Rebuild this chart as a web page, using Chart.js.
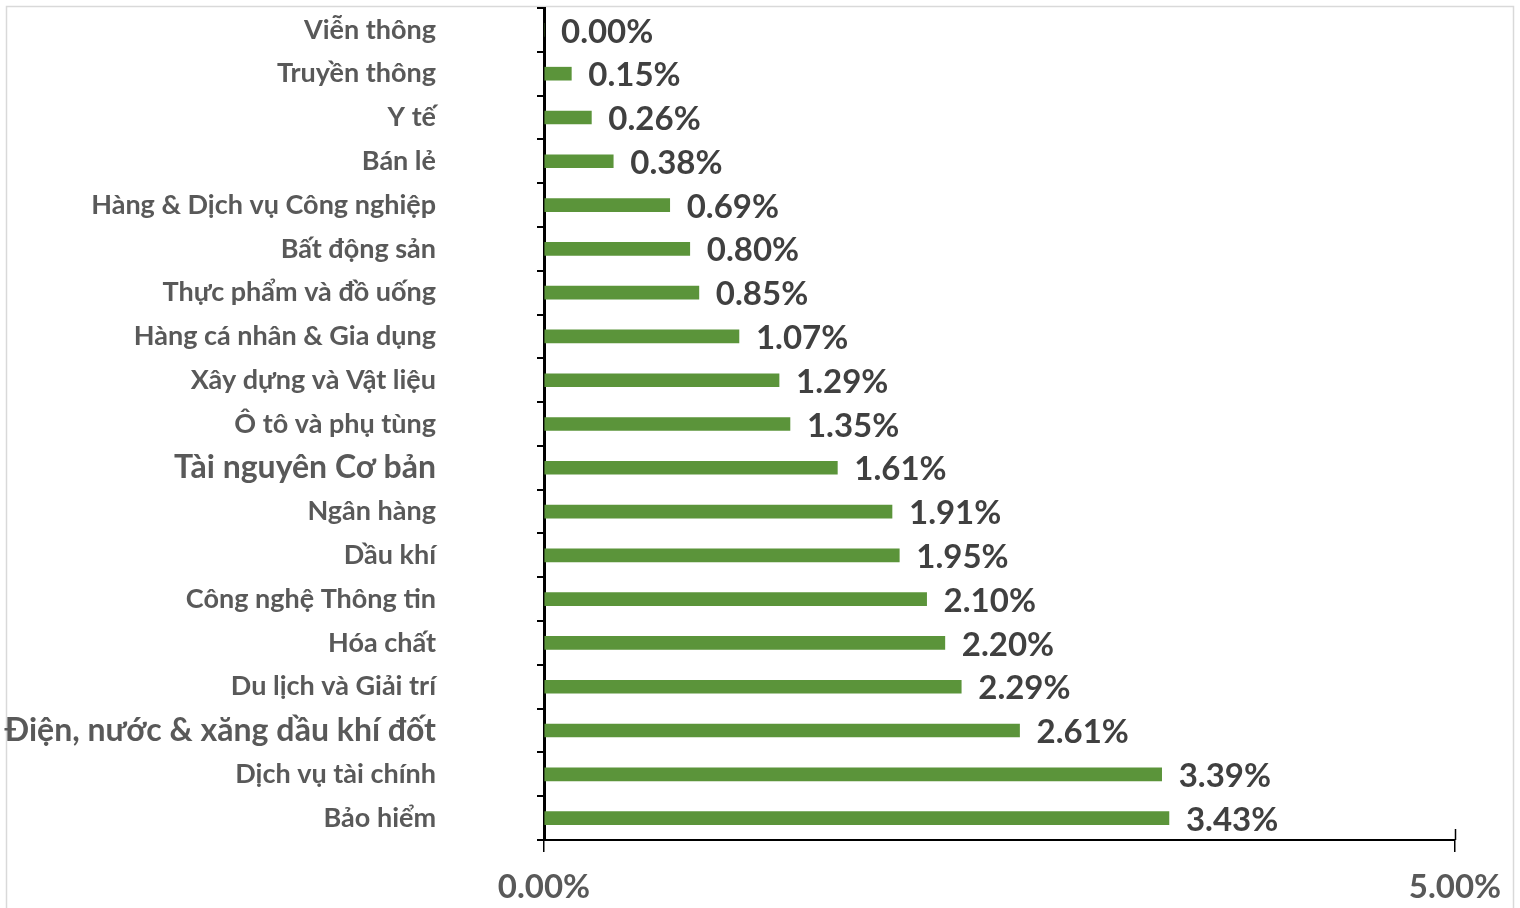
<!DOCTYPE html>
<html>
<head>
<meta charset="utf-8">
<script src="https://cdn.jsdelivr.net/npm/chart.js@4.4.1/dist/chart.umd.min.js"></script>
<style>
  html, body { margin: 0; padding: 0; background: #fff; }
  #wrap { position: relative; width: 1520px; height: 908px; }
</style>
</head>
<body>
<div id="wrap"><canvas id="sectorChart"></canvas></div>
<script>
// sectors, top to bottom
const categories = [
  'Viễn thông', 'Truyền thông', 'Y tế', 'Bán lẻ', 'Hàng & Dịch vụ Công nghiệp',
  'Bất động sản', 'Thực phẩm và đồ uống', 'Hàng cá nhân & Gia dụng',
  'Xây dựng và Vật liệu', 'Ô tô và phụ tùng', 'Tài nguyên Cơ bản', 'Ngân hàng',
  'Dầu khí', 'Công nghệ Thông tin', 'Hóa chất', 'Du lịch và Giải trí',
  'Điện, nước & xăng dầu khí đốt', 'Dịch vụ tài chính', 'Bảo hiểm'
];
// percent
const values = [
  0.00, 0.15, 0.26, 0.38, 0.69, 0.80, 0.85, 1.07, 1.29, 1.35,
  1.61, 1.91, 1.95, 2.10, 2.20, 2.29, 2.61, 3.39, 3.43
];
const xTickValues = [0, 5];

const COLORS = {
  bar: '#5b943a',
  label: '#595959',
  value: '#404040',
  axis: '#000000',
  frame: '#d9d9d9'
};

// two labels are set a size larger in the original
const largerLabelIdx = [10, 16];

Chart.defaults.font.family = 'Lato, "Open Sans", sans-serif';

const framePlugin = {
  id: 'frame',
  beforeDraw(chart) {
    const ctx = chart.ctx;
    ctx.save();
    ctx.fillStyle = '#ffffff';
    ctx.fillRect(0, 0, chart.width, chart.height);
    ctx.strokeStyle = COLORS.frame;
    ctx.lineWidth = 1.5;
    ctx.strokeRect(6.5, 6.5, chart.width - 13, chart.height + 20);
    ctx.restore();
  }
};

const valueLabels = {
  id: 'valueLabels',
  afterDatasetsDraw(chart) {
    const ctx = chart.ctx;
    const meta = chart.getDatasetMeta(0);
    ctx.save();
    ctx.font = 'bold 33px Lato';
    ctx.fillStyle = COLORS.value;
    ctx.textAlign = 'left';
    ctx.textBaseline = 'middle';
    meta.data.forEach((bar, i) => {
      ctx.fillText(values[i].toFixed(2) + '%', bar.x + 17, bar.y + 2);
    });
    ctx.restore();
  }
};

// x tick marks cross the axis line
const crossTicks = {
  id: 'crossTicks',
  afterDraw(chart) {
    const ctx = chart.ctx;
    const xs = chart.scales.x;
    ctx.save();
    ctx.strokeStyle = COLORS.axis;
    ctx.lineWidth = 1.5;
    xTickValues.forEach(v => {
      const px = Math.round(xs.getPixelForValue(v)) + 0.5;
      ctx.beginPath();
      ctx.moveTo(px, xs.top - 11);
      ctx.lineTo(px, xs.top);
      ctx.stroke();
    });
    ctx.restore();
  }
};

new Chart(document.getElementById('sectorChart'), {
  type: 'bar',
  data: {
    labels: categories,
    datasets: [{
      data: values,
      backgroundColor: COLORS.bar,
      barThickness: 13,
      borderWidth: 0
    }]
  },
  options: {
    indexAxis: 'y',
    responsive: true,
    maintainAspectRatio: false,
    animation: false,
    devicePixelRatio: 1,
    layout: { padding: { top: 8, right: 65, left: 0, bottom: 0 } },
    plugins: {
      legend: { display: false },
      tooltip: { enabled: false }
    },
    scales: {
      x: {
        type: 'linear',
        min: 0,
        max: 5,
        afterBuildTicks: scale => {
          scale.ticks = xTickValues.map(v => ({ value: v }));
        },
        afterFit: scale => { scale.height = 68; },
        border: { color: COLORS.axis, width: 2 },
        grid: {
          drawOnChartArea: false,
          tickLength: 12,
          color: COLORS.axis,
          lineWidth: 1.5
        },
        ticks: {
          color: COLORS.label,
          padding: 16,
          maxRotation: 0,
          font: { size: 33, weight: 'bold' },
          callback: v => Number(v).toFixed(2) + '%'
        }
      },
      y: {
        type: 'category',
        afterFit: scale => {
          scale.width = 544;
          // big label padding would otherwise squeeze the plot vertically
          scale.paddingTop = 0;
          scale.paddingBottom = 0;
        },
        border: { color: COLORS.axis, width: 3 },
        grid: {
          drawOnChartArea: false,
          offset: true,
          tickLength: 7,
          color: COLORS.axis,
          lineWidth: 2
        },
        ticks: {
          color: COLORS.label,
          padding: 101,
          autoSkip: false,
          font: ctx => ({
            size: largerLabelIdx.includes(ctx.index) ? 32 : 27,
            weight: 'bold'
          })
        }
      }
    }
  },
  plugins: [framePlugin, valueLabels, crossTicks]
});
</script>
</body>
</html>
